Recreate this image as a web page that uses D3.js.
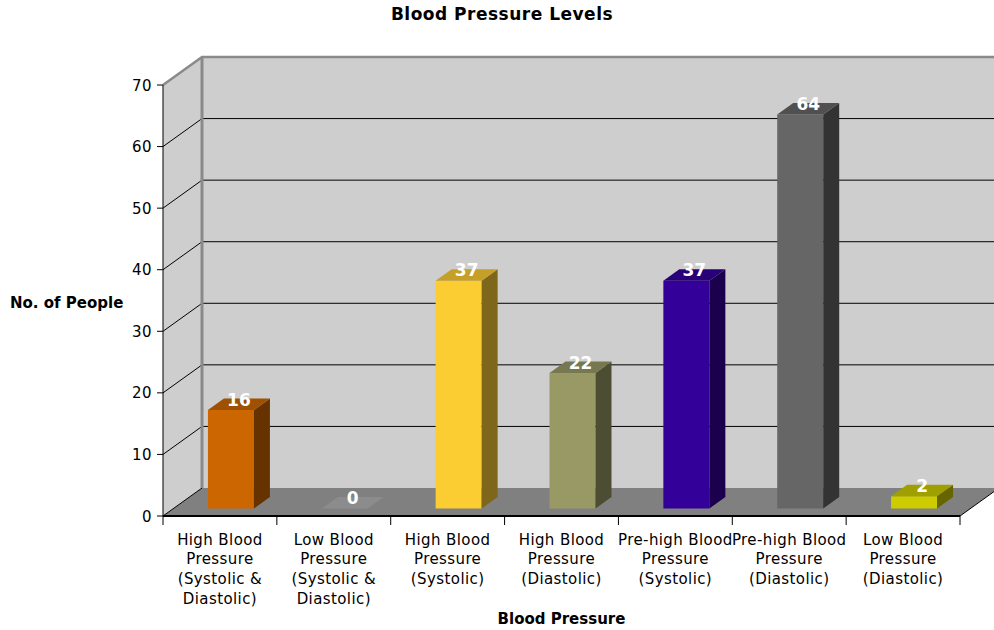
<!DOCTYPE html>
<html>
<head>
<meta charset="utf-8">
<script src="https://cdn.jsdelivr.net/npm/d3@7"></script>
<style>
  html, body { margin: 0; padding: 0; background: #ffffff; }
  svg { display: block; font-family: "DejaVu Sans", Verdana, sans-serif; }
</style>
</head>
<body>
<svg id="chart" width="994" height="630"></svg>
<script>
// Chart data
const categories = [
  ["High Blood", "Pressure", "(Systolic &", "Diastolic)"],
  ["Low Blood", "Pressure", "(Systolic &", "Diastolic)"],
  ["High Blood", "Pressure", "(Systolic)"],
  ["High Blood", "Pressure", "(Diastolic)"],
  ["Pre-high Blood", "Pressure", "(Systolic)"],
  ["Pre-high Blood", "Pressure", "(Diastolic)"],
  ["Low Blood", "Pressure", "(Diastolic)"]
];
const values = [16, 0, 37, 22, 37, 64, 2];
const barColors = ["#cc6600", "#9a9a9a", "#fccc33", "#999966", "#330099", "#666666", "#cccc00"];
const yTicks = [0, 10, 20, 30, 40, 50, 60, 70];

const chartTitle = "Blood Pressure Levels";
const xTitle = "Blood Pressure";
const yTitle = "No. of People";

// Geometry of the 3D box
const svg = d3.select("#chart");
const W = 994;
const plotL = 163, plotR = 960, plotB = 516, plotT = 85;
const depthX = 39, depthY = -28;           // offset from front plane to back wall
const barOffX = 11, barOffY = -7.5;        // bar front face sits slightly inside the floor
const barDX = 16, barDY = -11.5;           // bar thickness in depth
const barW = 46;

const y = d3.scaleLinear().domain([0, 70]).range([plotB, plotT]);
const x = d3.scaleBand().domain(d3.range(categories.length)).range([plotL, plotR]).padding(0);

const wallFill = "#cecece";
const floorFill = "#808080";
const rimColor = "#8a8a8a";

// Back wall
svg.append("rect")
  .attr("x", plotL + depthX).attr("y", plotT + depthY)
  .attr("width", W - (plotL + depthX)).attr("height", plotB - plotT)
  .attr("fill", wallFill);

// Side wall
svg.append("path")
  .attr("d", `M${plotL},${plotB} L${plotL},${plotT} L${plotL + depthX},${plotT + depthY} L${plotL + depthX},${plotB + depthY} Z`)
  .attr("fill", wallFill);

// Gridlines on side and back walls
const gridVals = yTicks.filter(v => v > 0 && v < 70);
svg.append("g").selectAll("path").data(gridVals).join("path")
  .attr("d", v => `M${plotL},${y(v)} L${plotL + depthX},${y(v) + depthY} L${W},${y(v) + depthY}`)
  .attr("fill", "none").attr("stroke", "#000").attr("stroke-width", 1);

// Floor
svg.append("path")
  .attr("d", `M${plotL},${plotB} L${plotR},${plotB} L${plotR + depthX},${plotB + depthY} L${plotL + depthX},${plotB + depthY} Z`)
  .attr("fill", floorFill);
svg.append("path")
  .attr("d", `M${plotL},${plotB} L${plotL + depthX},${plotB + depthY}`)
  .attr("stroke", "#000").attr("stroke-width", 1);
svg.append("path")
  .attr("d", `M${plotR},${plotB} L${plotR + depthX},${plotB + depthY}`)
  .attr("stroke", "#000").attr("stroke-width", 1);

// Wall rims
svg.append("path")
  .attr("d", `M${plotL},${plotT} L${plotL + depthX},${plotT + depthY} L${W},${plotT + depthY}`)
  .attr("fill", "none").attr("stroke", rimColor).attr("stroke-width", 2.5);
svg.append("line")
  .attr("x1", plotL + depthX).attr("x2", plotL + depthX)
  .attr("y1", plotT + depthY).attr("y2", plotB + depthY)
  .attr("stroke", rimColor).attr("stroke-width", 3);

// Bars
const shade = (c, k) => { const r = d3.rgb(c); return d3.rgb(r.r * k, r.g * k, r.b * k).formatHex(); };
const bars = svg.append("g").selectAll("g").data(values).join("g");
bars.each(function (v, i) {
  const g = d3.select(this);
  const x0 = x(i) + x.bandwidth() / 2 - barW / 2 + barOffX;
  const x1 = x0 + barW;
  const yb = y(0) + barOffY;
  const yt = y(v) + barOffY;
  const c = barColors[i];
  if (v > 0) {
    g.append("rect").attr("x", x0).attr("y", yt).attr("width", barW).attr("height", yb - yt).attr("fill", c);
    g.append("path")
      .attr("d", `M${x1},${yb} L${x1 + barDX},${yb + barDY} L${x1 + barDX},${yt + barDY} L${x1},${yt} Z`)
      .attr("fill", shade(c, 0.5));
    g.append("path")
      .attr("d", `M${x0},${yt} L${x1},${yt} L${x1 + barDX},${yt + barDY} L${x0 + barDX},${yt + barDY} Z`)
      .attr("fill", shade(c, 0.78));
  } else {
    g.append("path")
      .attr("d", `M${x0},${yt} L${x1},${yt} L${x1 + barDX},${yt + barDY} L${x0 + barDX},${yt + barDY} Z`)
      .attr("fill", "#8c8c8c");
  }
  g.append("text")
    .attr("x", x0 + (barW + barDX) / 2)
    .attr("y", yt + barDY / 2 + 1.5)
    .attr("text-anchor", "middle")
    .attr("font-size", 17).attr("font-weight", "bold").attr("fill", "#fff")
    .text(v);
});

// Y axis
const yAxis = svg.append("g");
yAxis.append("line").attr("x1", plotL).attr("x2", plotL).attr("y1", plotT).attr("y2", plotB)
  .attr("stroke", "#000").attr("stroke-width", 1);
yAxis.selectAll(".tk").data(yTicks).join("line")
  .attr("x1", plotL - 6).attr("x2", plotL).attr("y1", v => y(v)).attr("y2", v => y(v))
  .attr("stroke", "#000");
yAxis.selectAll("text").data(yTicks).join("text")
  .attr("x", plotL - 11).attr("y", v => y(v) + 5.5)
  .attr("text-anchor", "end").attr("font-size", 15).attr("letter-spacing", 0.5).attr("fill", "#000")
  .text(v => v);

// X axis
const xAxis = svg.append("g");
xAxis.append("line").attr("x1", plotL).attr("x2", plotR).attr("y1", plotB).attr("y2", plotB)
  .attr("stroke", "#000").attr("stroke-width", 2);
const bounds = d3.range(categories.length + 1).map(i => i < categories.length ? x(i) : plotR);
xAxis.selectAll(".tk").data(bounds).join("line")
  .attr("x1", d => d).attr("x2", d => d).attr("y1", plotB).attr("y2", plotB + 9)
  .attr("stroke", "#000");
xAxis.selectAll("text").data(categories).join("text")
  .attr("x", (d, i) => x(i) + x.bandwidth() / 2)
  .attr("y", plotB + 28.5)
  .attr("text-anchor", "middle").attr("font-size", 15).attr("letter-spacing", 0.4).attr("fill", "#000")
  .each(function (lines) {
    const cx = d3.select(this).attr("x");
    d3.select(this).selectAll("tspan").data(lines).join("tspan")
      .attr("x", cx)
      .attr("dy", (l, j) => j === 0 ? 0 : 19.7)
      .text(l => l);
  });

// Titles
svg.append("text").attr("x", 502).attr("y", 20).attr("text-anchor", "middle")
  .attr("font-size", 17).attr("letter-spacing", 0.5).attr("font-weight", "bold").text(chartTitle);
svg.append("text").attr("x", (plotL + plotR) / 2).attr("y", 624).attr("text-anchor", "middle")
  .attr("font-size", 15).attr("font-weight", "bold").text(xTitle);
svg.append("text").attr("x", 10).attr("y", 308).attr("text-anchor", "start")
  .attr("font-size", 15).attr("font-weight", "bold").text(yTitle);
</script>
</body>
</html>
